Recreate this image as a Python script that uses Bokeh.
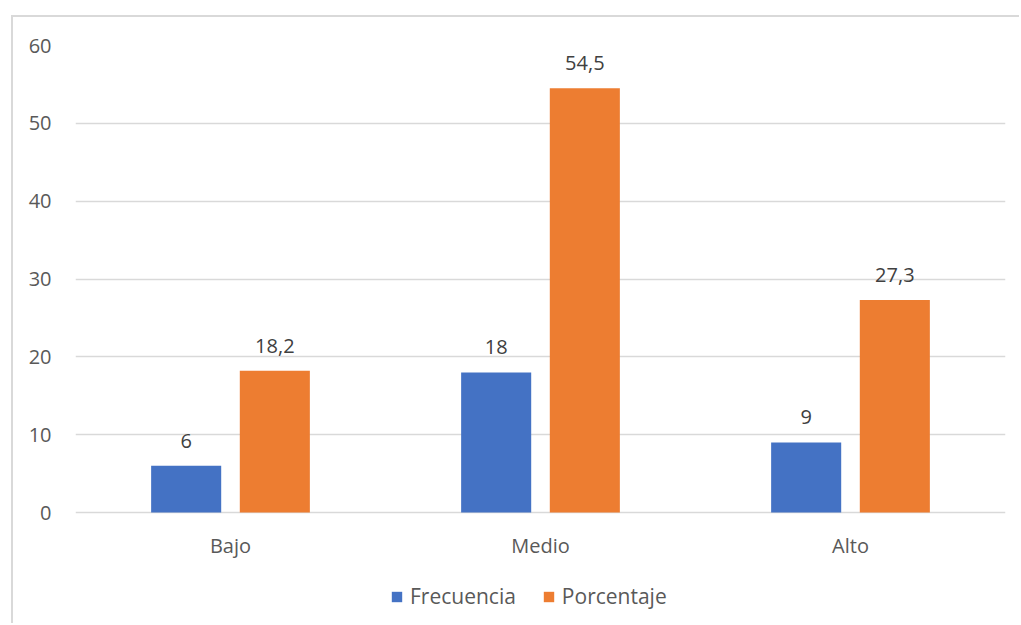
from bokeh.plotting import figure
from bokeh.models import (ColumnDataSource, FactorRange, Range1d, FixedTicker,
                          Legend, LegendItem, LabelSet)
from bokeh.core.properties import value
from bokeh.transform import dodge
from bokeh.embed import file_html
from bokeh.resources import INLINE

# Data
categorias = ["Bajo", "Medio", "Alto"]
frecuencia = [6, 18, 9]
porcentaje = [18.2, 54.5, 27.3]
y_ticks = [0, 10, 20, 30, 40, 50, 60]

BLUE = "#4472C4"
ORANGE = "#ED7D31"
GRID = "#D9D9D9"
FONT = "Open Sans"


def fmt(v):
    return ("%g" % v).replace(".", ",")


src = ColumnDataSource(dict(
    cat=categorias,
    frec=frecuencia,
    pct=porcentaje,
    frec_lbl=[fmt(v) for v in frecuencia],
    pct_lbl=[fmt(v) for v in porcentaje],
    base=[0] * len(categorias),
))

# The frame runs to the bottom edge so the category labels and the legend
# sit inside it; the value axis (0..60) occupies the upper 467 px.
FRAME_H = 580
AXIS_PX = 467
y_top = 60
y_bottom = -y_top * (FRAME_H - AXIS_PX) / AXIS_PX

p = figure(width=1008, height=608, output_backend="svg", toolbar_location=None,
           x_range=FactorRange(*categorias, range_padding=0),
           y_range=Range1d(y_bottom, y_top),
           x_axis_location=None,
           min_border_left=62, min_border_right=16,
           min_border_top=28, min_border_bottom=0)

# chart-area border: only top and left edges fall inside the page
p.styles = {"margin-left": "11px", "margin-top": "15px",
            "border-left": "2px solid #D9D9D9", "border-top": "2px solid #D9D9D9"}

p.outline_line_color = None
p.background_fill_color = "white"
p.border_fill_color = "white"

off = 0.143
w = 0.226
r1 = p.vbar(x=dodge("cat", -off, range=p.x_range), top="frec", width=w,
            source=src, fill_color=BLUE, line_color=None)
r2 = p.vbar(x=dodge("cat", off, range=p.x_range), top="pct", width=w,
            source=src, fill_color=ORANGE, line_color=None)

for ycol, tcol, sh in [("frec", "frec_lbl", -off), ("pct", "pct_lbl", off)]:
    p.add_layout(LabelSet(x=dodge("cat", sh, range=p.x_range), y=ycol, text=tcol,
                          source=src, text_align="center", text_baseline="alphabetic",
                          y_offset=18, text_font=value(FONT), text_font_size="20px",
                          text_color="#404040"))

# category labels under the baseline
p.add_layout(LabelSet(x="cat", y="base", text="cat", source=src,
                      text_align="center", text_baseline="middle", y_offset=-33,
                      text_font=value(FONT), text_font_size="20px",
                      text_color="#595959"))

# Y axis
p.yaxis.ticker = FixedTicker(ticks=y_ticks)
p.yaxis.axis_line_color = None
p.yaxis.major_tick_line_color = None
p.yaxis.minor_tick_line_color = None
p.yaxis.major_label_standoff = 18
p.yaxis.major_label_text_font = FONT
p.yaxis.major_label_text_font_size = "20px"
p.yaxis.major_label_text_color = "#595959"

p.xgrid.grid_line_color = None
p.ygrid.ticker = FixedTicker(ticks=y_ticks)
p.ygrid.grid_line_color = GRID
p.ygrid.grid_line_width = 1.3

legend = Legend(items=[LegendItem(label="Frecuencia", renderers=[r1]),
                       LegendItem(label="Porcentaje", renderers=[r2])],
                orientation="horizontal", location=(315, 15),
                glyph_width=13, glyph_height=13, label_standoff=7, spacing=26,
                padding=0, margin=0, border_line_color=None,
                background_fill_alpha=0,
                label_text_font=FONT, label_text_font_size="21px",
                label_text_color="#595959")
p.add_layout(legend, "center")

open("out.html", "w").write(file_html(p, INLINE))
